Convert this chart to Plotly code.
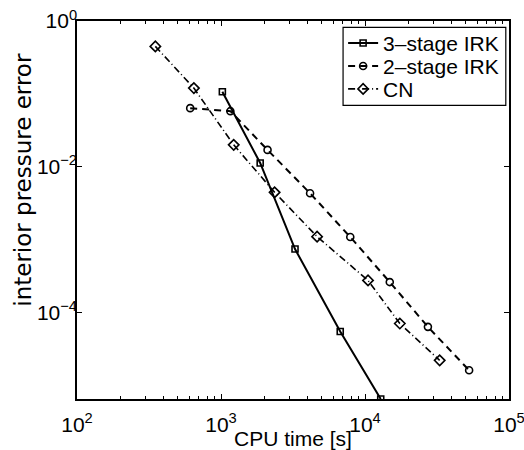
import plotly.graph_objects as go

# CPU time [s] and interior pressure error
irk3_time = [1022, 1871, 3266, 6730, 12860]
irk3_err = [0.1066, 0.01122, 7.36e-4, 5.42e-5, 6.41e-6]

irk2_time = [611, 1162, 2105, 4155, 7903, 14860, 27350, 52860]
irk2_err = [0.0635, 0.0577, 0.01696, 0.0043, 0.001077, 2.59e-4, 6.28e-5, 1.59e-5]

cn_time = [350, 648, 1225, 2356, 4648, 10494, 17450, 33000]
cn_err = [0.448, 0.1197, 0.01987, 0.00443, 0.00109, 2.73e-4, 6.98e-5, 2.18e-5]

series_names = ["3\u2013stage IRK", "2\u2013stage IRK", "CN"]

x_ticks = [1e2, 1e3, 1e4, 1e5]
x_ticktext = ["10<sup>2</sup>", "10<sup>3</sup>", "10<sup>4</sup>", "10<sup>5</sup>"]
x_minor = [m * 10 ** d for d in (2, 3, 4) for m in range(2, 10)]
y_ticks = [1, 1e-2, 1e-4]
y_ticktext = ["10<sup>0</sup>", "10<sup>\u22122</sup>", "10<sup>\u22124</sup>"]

FONT = "Liberation Sans, Arial, Helvetica, sans-serif"

fig = go.Figure()
fig.add_trace(go.Scatter(
    x=irk3_time, y=irk3_err, name=series_names[0], mode="lines+markers", legend="legend",
    line=dict(color="black", width=2, dash="solid"),
    marker=dict(symbol="square-open", size=6, color="black", line=dict(width=1.6, color="black")),
))
fig.add_trace(go.Scatter(
    x=irk2_time, y=irk2_err, name=series_names[1], mode="lines+markers", legend="legend2",
    line=dict(color="black", width=2, dash="7px,5px"),
    marker=dict(symbol="circle-open", size=7, color="black", line=dict(width=1.6, color="black")),
))
fig.add_trace(go.Scatter(
    x=cn_time, y=cn_err, name=series_names[2], mode="lines+markers", legend="legend3",
    line=dict(color="black", width=1.6, dash="7px,3px,1px,3px"),
    marker=dict(symbol="diamond-open", size=8, color="black", line=dict(width=1.6, color="black")),
))

axis_common = dict(
    type="log", showgrid=False, zeroline=False,
    showline=True, linecolor="black", linewidth=1.5, mirror="allticks",
    ticks="inside", ticklen=5, tickwidth=1, tickcolor="black",
    tickfont=dict(family=FONT, size=21, color="black"),
    ticklabeloverflow="allow",
)

fig.update_xaxes(
    **axis_common, range=[2, 5], tickvals=x_ticks, ticktext=x_ticktext,
    ticklabelstandoff=6,
    minor=dict(tickvals=x_minor, ticks="inside", ticklen=3, tickwidth=1, tickcolor="black", showgrid=False),
    title=dict(text="CPU time [s]", font=dict(family=FONT, size=21, color="black"), standoff=2),
)
fig.update_yaxes(
    **axis_common, range=[-5.193, 0], tickvals=y_ticks, ticktext=y_ticktext,
    ticklabelstandoff=-6,
)

legend_style = dict(
    xanchor="left", yanchor="middle", x=0.616,
    bgcolor="rgba(0,0,0,0)", borderwidth=0,
    font=dict(family=FONT, size=21, color="black"),
    itemwidth=30,
)

fig.update_layout(
    width=524, height=450,
    margin=dict(l=77, r=15, t=21, b=51, autoexpand=False),
    paper_bgcolor="white", plot_bgcolor="white",
    showlegend=True,
    legend=dict(**legend_style, y=0.941),
    legend2=dict(**legend_style, y=0.880),
    legend3=dict(**legend_style, y=0.8195),
    shapes=[dict(
        type="rect", xref="paper", yref="paper",
        x0=0.6159, x1=0.9926, y0=0.777, y1=0.983,
        line=dict(color="black", width=1.2), fillcolor="white", layer="above",
    )],
    annotations=[dict(
        text="interior pressure error", textangle=-90,
        xref="paper", yref="paper", x=0, y=0.58, xanchor="center", yanchor="middle",
        xshift=-54, showarrow=False,
        font=dict(family="DejaVu Sans", size=23, color="black"),
    )],
)

fig.write_html("out.html")
